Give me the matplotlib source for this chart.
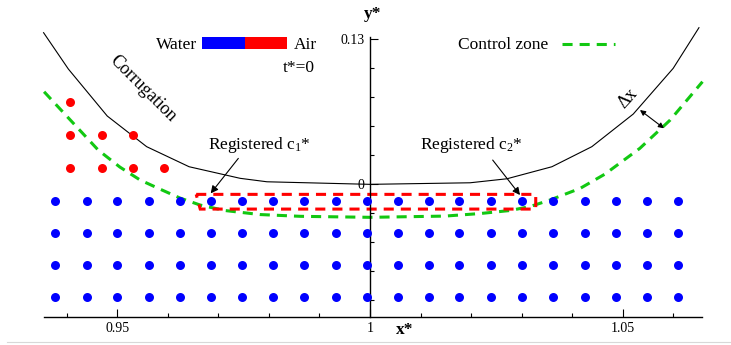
import matplotlib
matplotlib.use("Agg")
import matplotlib.pyplot as plt
from matplotlib.patches import Rectangle, Polygon
from matplotlib.lines import Line2D
from matplotlib.ticker import MultipleLocator, FixedLocator
import numpy as np

plt.rcParams["font.family"] = ["Liberation Serif", "DejaVu Serif"]
plt.rcParams["mathtext.fontset"] = "custom"
plt.rcParams["mathtext.rm"] = "Liberation Serif"
plt.rcParams["mathtext.it"] = "Liberation Serif:italic"

# particle positions
blue_x = [0.9377, 0.9439, 0.9500, 0.9562, 0.9623, 0.9685, 0.9747, 0.9808, 0.9869, 0.9932,
          0.9994, 1.0055, 1.0117, 1.0177, 1.0240, 1.0301, 1.0363, 1.0425, 1.0487, 1.0549, 1.0610]
blue_y = [-0.0150, -0.0434, -0.0724, -0.1014]
red_x = [0.9406, 0.9406, 0.9469, 0.9530, 0.9406, 0.9469, 0.9530, 0.9593]
red_y = [0.0741, 0.0440, 0.0440, 0.0440, 0.0149, 0.0149, 0.0149, 0.0149]

# corrugation wall
corr_x = [0.9354, 0.9403, 0.9480, 0.9558, 0.9642, 0.9743, 0.9796, 1.0,
          1.0198, 1.0271, 1.0360, 1.0439, 1.0521, 1.0600, 1.0651]
corr_y = [0.1361, 0.1035, 0.0613, 0.0338, 0.0158, 0.0054, 0.0023, 0.0,
          0.0014, 0.0050, 0.0158, 0.0338, 0.0631, 0.1041, 0.1406]

# control zone boundary
ctrl_x = [0.9355, 0.9462, 0.9505, 0.9545, 0.9584, 0.9624, 0.9664, 0.9713, 0.9782, 0.9862, 1.0,
          1.0148, 1.0218, 1.0277, 1.0317, 1.0356, 1.0416, 1.0465, 1.0534, 1.0594, 1.0658]
ctrl_y = [0.0831, 0.0308, 0.0155, 0.0039, -0.0042, -0.0123, -0.0186, -0.0235, -0.0271, -0.0287, -0.0296,
          -0.0285, -0.0262, -0.0235, -0.0199, -0.0141, -0.0036, 0.0092, 0.0323, 0.0577, 0.0921]

# registered zone outline
reg_x = [0.9656, 1.0328, 1.0328, 0.9664]
reg_y = [-0.0090, -0.0090, -0.0222, -0.0222]

green = "#12c812"
blue = "#0000ff"
red = "#ff0000"

fig = plt.figure(figsize=(7.31, 3.45), dpi=100)
ax = fig.add_axes([0.0606, 0.0820, 0.8997, 0.8116])
ax.set_xlim(0.93554, 1.0657)
ax.set_ylim(-0.1188, 0.1325)

ax.spines["top"].set_visible(False)
ax.spines["right"].set_visible(False)
ax.spines["left"].set_position(("data", 1.0))
ax.spines["left"].set_linewidth(1.0)
ax.spines["bottom"].set_linewidth(1.0)

ax.xaxis.set_major_locator(FixedLocator([0.95, 1.0, 1.05]))
ax.xaxis.set_minor_locator(MultipleLocator(0.01))
ax.set_xticklabels(["0.95", "1", "1.05"])
ax.yaxis.set_major_locator(FixedLocator([0.0, 0.13]))
ax.yaxis.set_minor_locator(MultipleLocator(0.026))
ax.set_yticklabels(["0", "0.13"])
ax.tick_params(which="both", direction="in", labelsize=10, width=0.8)
ax.tick_params(which="major", length=6)
ax.tick_params(which="minor", length=3)
ax.tick_params(axis="y", pad=4)
ax.tick_params(axis="x", pad=3.5)
for lab in ax.get_yticklabels():
    lab.set_bbox(dict(facecolor="white", edgecolor="none", pad=0.3))

bx, by = np.meshgrid(blue_x, blue_y)
ax.scatter(bx.ravel(), by.ravel(), s=42, color=blue, linewidths=0, zorder=3, clip_on=False)
ax.scatter(red_x, red_y, s=42, color=red, linewidths=0, zorder=3, clip_on=False)

ax.plot(corr_x, corr_y, color="black", lw=0.8, clip_on=False, zorder=2)
ax.plot(ctrl_x, ctrl_y, color=green, lw=2.2, dashes=(3.3, 2.3), clip_on=False, zorder=2)
ax.add_patch(Polygon(list(zip(reg_x, reg_y)), closed=True, fill=False, edgecolor=red,
                     lw=2.2, linestyle=(0, (3.3, 2.3)), zorder=2))

# annotations
ax.text(0.96794, 0.0317, r"Registered $\mathrm{c}_1$*", fontsize=12.5, ha="left", va="baseline")
ax.text(1.0099, 0.0317, r"Registered $\mathrm{c}_2$*", fontsize=12.5, ha="left", va="baseline")
ax.annotate("", xy=(0.96847, -0.0081), xytext=(0.97394, 0.0233),
            arrowprops=dict(arrowstyle="-|>", color="black", lw=0.8, mutation_scale=11,
                            shrinkA=0, shrinkB=0))
ax.annotate("", xy=(1.02969, -0.0096), xytext=(1.02428, 0.0218),
            arrowprops=dict(arrowstyle="-|>", color="black", lw=0.8, mutation_scale=11,
                            shrinkA=0, shrinkB=0))
ax.annotate("", xy=(1.05818, 0.0503), xytext=(1.05343, 0.0667),
            arrowprops=dict(arrowstyle="<|-|>", color="black", lw=0.8, mutation_scale=8,
                            shrinkA=0, shrinkB=0))
ax.text(1.05112, 0.0772, "Δx", fontsize=13, rotation=48, ha="center", va="center",
        rotation_mode="anchor")
ax.text(0.95508, 0.0855, "Corrugation", fontsize=13, rotation=-45, ha="center", va="center",
        rotation_mode="anchor")

# axis titles
fig.text(0.510, 0.959, "y*", fontsize=12.5, fontweight="bold", ha="center", va="center")
fig.text(0.554, 0.0435, "x*", fontsize=12.5, fontweight="bold", ha="center", va="center")

# legend-like labels
fig.text(0.2691, 0.8571, "Water", fontsize=12.5, ha="right", va="baseline")
fig.patches.append(Rectangle((0.2767, 0.8571), 0.0584, 0.0365, transform=fig.transFigure,
                             facecolor=blue, edgecolor="none"))
fig.patches.append(Rectangle((0.3351, 0.8571), 0.0579, 0.0365, transform=fig.transFigure,
                             facecolor=red, edgecolor="none"))
fig.text(0.4013, 0.8571, "Air", fontsize=12.5, ha="left", va="baseline")
fig.text(0.4309, 0.7922, "t*=0", fontsize=12.5, ha="right", va="baseline")
fig.text(0.6261, 0.8571, "Control zone", fontsize=12.5, ha="left", va="baseline")
fig.lines.append(Line2D([0.7684, 0.8413], [0.8725, 0.8725], transform=fig.transFigure,
                        color=green, lw=2.2, dashes=(3.3, 2.3)))

# thin frame line at the bottom
fig.lines.append(Line2D([0.009, 1.0], [0.0096, 0.0096], transform=fig.transFigure,
                        color="#d8d8d8", lw=0.8))

fig.savefig("out.png", dpi=100)
